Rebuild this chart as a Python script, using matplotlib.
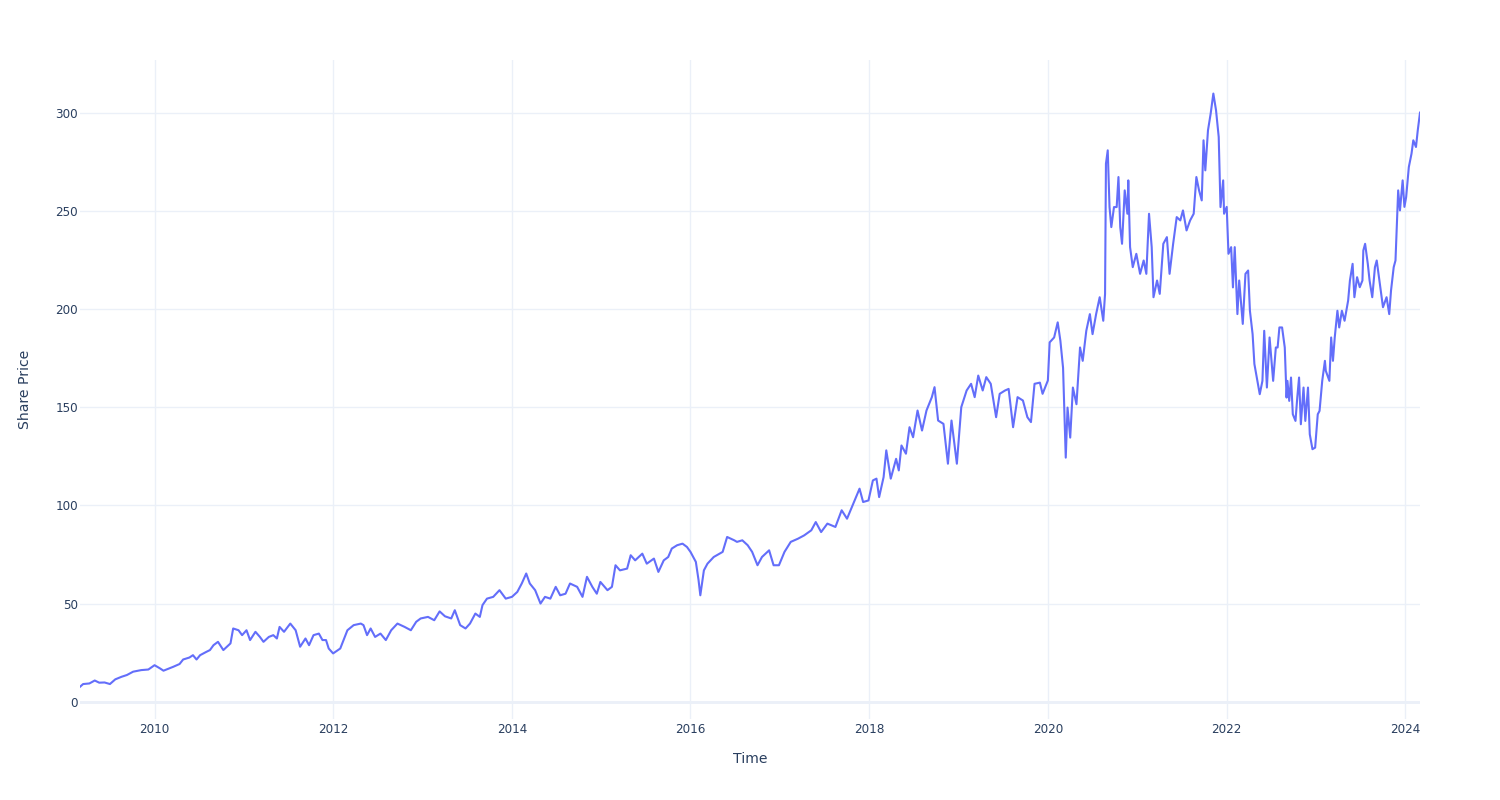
import matplotlib
matplotlib.use("Agg")
import matplotlib.pyplot as plt
import matplotlib.dates as mdates
import pandas as pd
import numpy as np

# Time as decimal years
time_years = [
    2009.165, 2009.2, 2009.27, 2009.33, 2009.38, 2009.44, 2009.5, 2009.56, 2009.63, 2009.69,
    2009.76, 2009.85, 2009.93, 2010.0, 2010.06, 2010.1, 2010.21, 2010.28, 2010.32, 2010.39,
    2010.43, 2010.47, 2010.51, 2010.58, 2010.62, 2010.66, 2010.71, 2010.77, 2010.85, 2010.88,
    2010.94, 2010.98, 2011.03, 2011.07, 2011.13, 2011.18, 2011.22, 2011.28, 2011.33, 2011.37,
    2011.4, 2011.45, 2011.52, 2011.58, 2011.63, 2011.69, 2011.73, 2011.78, 2011.84, 2011.88,
    2011.92, 2011.95, 2012.0, 2012.08, 2012.16, 2012.23, 2012.31, 2012.34, 2012.38, 2012.42,
    2012.47, 2012.53, 2012.59, 2012.65, 2012.72, 2012.8, 2012.87, 2012.93, 2012.98, 2013.06,
    2013.13, 2013.19, 2013.25, 2013.32,
    2013.36, 2013.42, 2013.48, 2013.53, 2013.59, 2013.64, 2013.67, 2013.72, 2013.79, 2013.86,
    2013.93, 2014.0, 2014.06, 2014.11, 2014.16, 2014.2, 2014.26, 2014.32, 2014.37, 2014.43,
    2014.49, 2014.54, 2014.6, 2014.65, 2014.73, 2014.79, 2014.84, 2014.9, 2014.95, 2014.99,
    2015.07, 2015.12, 2015.16, 2015.21, 2015.29, 2015.33, 2015.38, 2015.46, 2015.51, 2015.59,
    2015.64, 2015.7, 2015.75, 2015.79, 2015.85, 2015.91, 2015.96, 2016.0, 2016.06, 2016.09,
    2016.11, 2016.15, 2016.19, 2016.26, 2016.36, 2016.41, 2016.49, 2016.52, 2016.58, 2016.64,
    2016.69, 2016.75, 2016.8, 2016.88, 2016.93, 2016.99, 2017.05, 2017.12, 2017.2, 2017.27,
    2017.35, 2017.4, 2017.46,
    2017.53, 2017.62, 2017.69, 2017.75, 2017.82, 2017.89, 2017.93, 2017.99, 2018.04, 2018.08,
    2018.11, 2018.16, 2018.19, 2018.24, 2018.3, 2018.33, 2018.36, 2018.41, 2018.45, 2018.49,
    2018.54, 2018.59, 2018.64, 2018.7, 2018.73, 2018.77, 2018.83, 2018.88, 2018.92, 2018.98,
    2019.03, 2019.09, 2019.14, 2019.18, 2019.22, 2019.27, 2019.31, 2019.36, 2019.42, 2019.46,
    2019.52, 2019.56, 2019.61, 2019.66, 2019.72, 2019.77, 2019.81, 2019.85, 2019.91, 2019.94,
    2020.0,
    2020.02, 2020.07, 2020.11, 2020.14, 2020.17, 2020.2, 2020.22, 2020.25, 2020.28, 2020.32,
    2020.36, 2020.39, 2020.43, 2020.47, 2020.5, 2020.54, 2020.58, 2020.62, 2020.64, 2020.65,
    2020.67, 2020.69, 2020.71, 2020.74, 2020.77, 2020.79, 2020.81, 2020.83, 2020.86, 2020.89,
    2020.9, 2020.92, 2020.95, 2020.99, 2021.03, 2021.07, 2021.1, 2021.12, 2021.13, 2021.16,
    2021.18, 2021.22, 2021.25, 2021.29, 2021.33, 2021.36, 2021.4, 2021.44, 2021.48, 2021.51,
    2021.55, 2021.59, 2021.63, 2021.66, 2021.69, 2021.72, 2021.74, 2021.76, 2021.79, 2021.82,
    2021.85, 2021.88, 2021.91, 2021.93, 2021.96, 2021.97, 2022.0,
    2022.02, 2022.05, 2022.07, 2022.09, 2022.12, 2022.14, 2022.18, 2022.21, 2022.24, 2022.26,
    2022.29, 2022.31, 2022.33, 2022.37, 2022.4, 2022.42, 2022.45, 2022.48, 2022.52, 2022.55,
    2022.57, 2022.59, 2022.62, 2022.65, 2022.67, 2022.68, 2022.7, 2022.72, 2022.74, 2022.77,
    2022.79, 2022.81, 2022.83, 2022.86, 2022.88, 2022.91, 2022.93, 2022.96, 2022.99, 2023.02,
    2023.04, 2023.07, 2023.1, 2023.11, 2023.15, 2023.17, 2023.19, 2023.21, 2023.24, 2023.26,
    2023.29, 2023.32, 2023.36, 2023.38, 2023.41, 2023.43, 2023.46, 2023.49, 2023.52, 2023.53,
    2023.55, 2023.58, 2023.6, 2023.63, 2023.66, 2023.68, 2023.71, 2023.75, 2023.79, 2023.82,
    2023.84, 2023.87, 2023.89, 2023.92, 2023.94, 2023.97, 2023.99, 2024.01, 2024.04, 2024.07,
    2024.09, 2024.12, 2024.14, 2024.165,
]

share_price = [
    7.6, 9.0, 9.3, 10.8, 9.7, 9.8, 9.0, 11.4, 12.7, 13.6,
    15.3, 16.1, 16.4, 18.6, 17.0, 15.8, 17.8, 19.2, 21.5, 22.5,
    23.7, 21.5, 23.7, 25.4, 26.3, 28.8, 30.5, 26.3, 29.7, 37.3,
    36.4, 33.9, 36.4, 31.4, 35.6, 33.0, 30.5, 33.0, 33.9, 32.2,
    38.1, 35.6, 39.8, 36.4, 28.0, 32.2, 28.8, 33.9, 34.7, 31.4,
    31.4, 27.1, 24.6, 27.1, 36.4, 39.0, 39.8, 39.0, 33.9, 37.3,
    33.0, 34.7, 31.4, 36.4, 39.8, 38.1, 36.4, 40.7, 42.4, 43.2,
    41.5, 46.0, 43.5, 42.4,
    46.6, 39.0, 37.3, 39.8, 44.9, 43.2, 49.2, 52.5, 53.4, 56.8,
    52.5, 53.4, 55.9, 60.2, 65.3, 60.2, 56.8, 50.0, 53.4, 52.5,
    58.5, 54.2, 55.0, 60.2, 58.5, 53.4, 63.6, 58.5, 55.0, 61.0,
    56.8, 58.5, 69.5, 66.9, 67.8, 74.6, 72.0, 75.4, 70.3, 72.9,
    66.1, 72.0, 73.7, 78.0, 79.7, 80.5, 78.8, 76.3, 71.2, 62.0,
    54.2, 66.9, 70.3, 73.7, 76.3, 83.9, 82.2, 81.4, 82.2, 79.7,
    76.3, 69.5, 73.7, 77.1, 69.5, 69.5, 76.3, 81.4, 83.0, 84.7,
    87.3, 91.5, 86.4,
    90.7, 89.0, 97.5, 93.2, 100.8, 108.5, 101.7, 102.5, 112.7, 113.6,
    104.2, 114.4, 128.0, 113.6, 123.7, 117.8, 130.5, 126.3, 139.8, 134.7,
    148.3, 138.1, 148.3, 155.1, 160.2, 143.2, 141.5, 121.2, 143.2, 121.2,
    150.0, 158.5, 161.9, 155.1, 166.1, 158.5, 165.3, 161.9, 144.9, 156.8,
    158.5, 159.3, 139.8, 155.1, 153.4, 144.9, 142.4, 161.9, 162.5, 156.8,
    163.6,
    183.0, 185.5, 193.2, 183.8, 170.0, 124.3, 149.8, 134.5, 160.0, 151.5,
    180.4, 173.6, 188.9, 197.4, 187.2, 197.4, 206.0, 194.0, 207.7, 274.0,
    280.8, 251.9, 241.7, 251.9, 251.9, 267.2, 241.7, 233.2, 260.4, 248.5,
    265.5, 231.5, 221.3, 228.1, 217.9, 224.7, 217.9, 238.3, 248.5, 231.5,
    206.0, 214.5, 207.7, 233.2, 236.6, 217.9, 233.2, 246.8, 245.1, 250.2,
    240.0, 245.1, 248.5, 267.2, 260.4, 255.3, 285.9, 270.6, 291.0, 299.5,
    309.7, 301.2, 287.6, 251.9, 265.5, 248.5, 252.0,
    228.1, 231.5, 211.0, 231.5, 197.4, 214.5, 192.4, 217.9, 219.6, 199.1,
    187.2, 172.0, 166.8, 156.6, 163.4, 188.9, 160.0, 185.5, 163.4, 180.4,
    180.4, 190.6, 190.6, 180.4, 154.9, 163.4, 153.2, 165.1, 146.4, 143.0,
    154.9, 165.1, 141.3, 160.0, 143.0, 160.0, 136.2, 128.6, 129.4, 146.4,
    148.1, 163.4, 173.6, 168.5, 163.4, 185.5, 173.6, 185.5, 199.1, 190.6,
    199.1, 194.0, 204.3, 214.5, 223.0, 206.0, 216.2, 211.1, 214.5, 229.8,
    233.2, 223.0, 214.5, 206.0, 221.3, 224.7, 214.5, 200.9, 206.0, 197.4,
    209.4, 221.3, 224.7, 260.4, 250.2, 265.5, 252.0, 257.0, 272.3, 279.1,
    285.9, 282.5, 291.0, 300.0,
]

y_ticks = [0, 50, 100, 150, 200, 250, 300]
x_tick_years = [2010, 2012, 2014, 2016, 2018, 2020, 2022, 2024]


def year_to_date(y):
    base = pd.Timestamp(int(np.floor(y)), 1, 1)
    return base + pd.Timedelta(days=(y - np.floor(y)) * 365.25)


dates = [year_to_date(y) for y in time_years]

plt.rcParams['font.family'] = ['DejaVu Sans']

TEXT = '#2a3f5f'
GRID = '#EBF0F8'
LINE = '#636EFA'

fig = plt.figure(figsize=(15, 8), dpi=100)
ax = fig.add_axes([80 / 1500, 81 / 800, 1340 / 1500, 659 / 800])

ax.plot(dates, share_price, color=LINE, linewidth=1.5, zorder=3,
        solid_joinstyle='round')

ax.set_xlim(dates[0], dates[-1])
ax.set_ylim(-8.8, 326.8)

ax.set_yticks(y_ticks)
ax.set_xticks([pd.Timestamp(y, 1, 1) for y in x_tick_years])
ax.xaxis.set_major_formatter(mdates.DateFormatter('%Y'))

for s in ax.spines.values():
    s.set_visible(False)

ax.grid(True, color=GRID, linewidth=1.0, zorder=0)
ax.axhline(0, color=GRID, linewidth=2.0, zorder=1)

ax.tick_params(axis='both', length=0, labelsize=8.64, labelcolor=TEXT)
ax.tick_params(axis='y', pad=1.5)
ax.tick_params(axis='x', pad=3)

ax.set_xlabel('Time', fontsize=10.08, color=TEXT, labelpad=11.5)
ax.set_ylabel('Share Price', fontsize=10.08, color=TEXT, labelpad=17)

fig.savefig('out.png', dpi=100, facecolor='white')
